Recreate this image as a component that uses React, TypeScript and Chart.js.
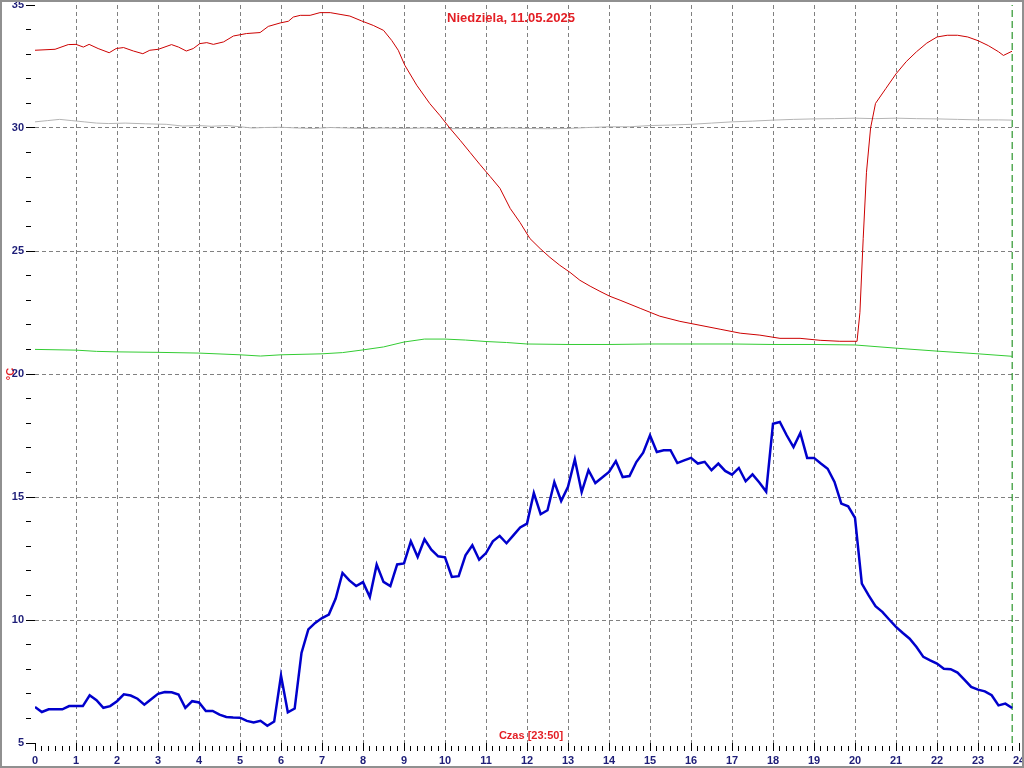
import React, { useEffect, useRef } from 'react';
import { Chart, registerables } from 'chart.js';

Chart.register(...registerables);

const titleText = 'Niedziela, 11.05.2025';
const xAxisText = 'Czas [23:50]';
const yAxisText = '°C';
const nowMinutes = 1430;
const yMin = 5;
const yMax = 35;
const dayMinutes = 1440;

// 10-minute samples from 00:00 to 23:50
const blueValues = [
  6.46, 6.26, 6.37, 6.37, 6.37, 6.5, 6.5, 6.5, 6.94, 6.74, 6.43, 6.5,
  6.7, 6.98, 6.93, 6.8, 6.56, 6.78, 7.0, 7.07, 7.06, 6.97, 6.43, 6.7,
  6.65, 6.3, 6.3, 6.15, 6.06, 6.04, 6.03, 5.9, 5.83, 5.9, 5.7, 5.87,
  7.74, 6.25, 6.4, 8.66, 9.62, 9.88, 10.08, 10.22, 10.87, 11.91, 11.61, 11.38,
  11.54, 10.93, 12.25, 11.55, 11.38, 12.26, 12.3, 13.2, 12.56, 13.28, 12.86, 12.59,
  12.55, 11.75, 11.78, 12.63, 13.04, 12.45, 12.72, 13.2, 13.42, 13.12, 13.44, 13.76,
  13.92, 15.16, 14.3, 14.46, 15.61, 14.84, 15.41, 16.53, 15.2, 16.09, 15.57, 15.79,
  16.02, 16.46, 15.81, 15.85, 16.42, 16.8, 17.51, 16.83, 16.9, 16.9, 16.38, 16.49,
  16.59, 16.36, 16.43, 16.09, 16.36, 16.06, 15.91, 16.18, 15.64, 15.92, 15.59, 15.22,
  17.98, 18.05, 17.51, 17.03, 17.6, 16.59, 16.59, 16.36, 16.15, 15.61, 14.73, 14.62,
  14.15, 11.48, 11.0, 10.56, 10.33, 10.02, 9.72, 9.47, 9.24, 8.9, 8.5, 8.36,
  8.23, 8.02, 8.0, 7.86, 7.58, 7.28, 7.17, 7.1, 6.94, 6.53, 6.6, 6.42,
];
const blueStepMinutes = 10;

const redHours = [
  0, 0.49, 0.81, 1.0, 1.18, 1.32, 1.54, 1.81, 1.98, 2.16, 2.4, 2.63, 2.8, 3.01, 3.33, 3.5,
  3.69, 3.86, 4.02, 4.19, 4.35, 4.6, 4.84, 5.16, 5.49, 5.69, 5.98, 6.18, 6.3, 6.47, 6.71,
  6.95, 7.2, 7.44, 7.68, 7.97, 8.25, 8.5, 8.7, 8.86, 9.02, 9.31, 9.63, 9.88, 10.12, 10.37,
  10.61, 10.85, 11.1, 11.34, 11.59, 11.83, 12.07, 12.32, 12.56, 12.8, 13.05, 13.29, 13.54,
  13.78, 14.02, 14.27, 14.76, 15.24, 15.73, 16.22, 16.71, 17.2, 17.68, 18.17, 18.66, 19.15,
  19.63, 20.05, 20.12, 20.2, 20.28, 20.38, 20.5, 20.75, 21.0, 21.25, 21.5, 21.75, 22.0,
  22.25, 22.5, 22.75, 23.0, 23.25, 23.5, 23.62, 23.83,
];
const redValues = [
  33.16, 33.2, 33.39, 33.4, 33.29, 33.4, 33.23, 33.06, 33.23, 33.27, 33.13, 33.02, 33.16, 33.2, 33.39, 33.29,
  33.13, 33.23, 33.43, 33.47, 33.4, 33.5, 33.74, 33.84, 33.88, 34.13, 34.27, 34.34, 34.51, 34.58, 34.58,
  34.69, 34.69, 34.62, 34.55, 34.35, 34.17, 33.97, 33.56, 33.16, 32.55, 31.74, 30.99, 30.5, 29.99, 29.5,
  29.01, 28.52, 28.03, 27.55, 26.73, 26.16, 25.51, 25.1, 24.74, 24.42, 24.13, 23.81, 23.57,
  23.36, 23.16, 23.0, 22.67, 22.35, 22.14, 21.98, 21.82, 21.66, 21.58, 21.45, 21.45, 21.37,
  21.33, 21.33, 22.5, 25.5, 28.2, 30.0, 31.0, 31.6, 32.2, 32.7, 33.1, 33.45, 33.7,
  33.77, 33.77, 33.7, 33.55, 33.35, 33.1, 32.95, 33.12,
];

const grayHours = [
  0, 0.3, 0.6, 0.9, 1.2, 1.5, 1.8, 2.2, 2.7, 3.2, 3.6, 4.0, 4.3, 4.7, 5.0, 5.3, 5.6, 6.0,
  6.4, 6.8, 7.2, 7.6, 8.0, 8.5, 9.0, 9.5, 10.0, 10.5, 11.0, 11.5, 12.0, 12.5, 13.0, 13.5,
  14.0, 14.5, 15.0, 15.5, 16.0, 16.5, 17.0, 17.5, 18.0, 18.5, 19.0, 19.5, 20.0, 20.5, 21.0,
  21.5, 22.0, 22.5, 23.0, 23.5, 23.83,
];
const grayValues = [
  30.25, 30.3, 30.35, 30.3, 30.25, 30.2, 30.18, 30.2, 30.17, 30.15, 30.08, 30.1, 30.07, 30.1, 30.05, 30.0, 30.02, 30.03,
  30.0, 29.98, 30.02, 30.0, 29.98, 30.0, 29.98, 30.0, 29.97, 29.98, 29.97, 30.0, 29.98, 29.97, 29.98, 30.02,
  30.05, 30.05, 30.1, 30.12, 30.15, 30.2, 30.25, 30.28, 30.32, 30.35, 30.37, 30.38, 30.4, 30.38, 30.4,
  30.38, 30.37, 30.35, 30.33, 30.33, 30.32,
];

const greenHours = [
  0, 1, 1.5, 2, 3, 4, 5, 5.5, 6, 7, 7.5, 8, 8.5, 9, 9.5, 10, 10.5, 11, 11.5, 12, 13, 14, 15,
  16, 17, 18, 19, 20, 21, 22, 23, 23.83,
];
const greenValues = [
  21.0, 20.97, 20.92, 20.9, 20.88, 20.85, 20.78, 20.73, 20.78, 20.82, 20.87, 20.98, 21.1, 21.3, 21.42, 21.42, 21.38,
  21.32, 21.28, 21.22, 21.2, 21.2, 21.22, 21.22, 21.22, 21.2, 21.2, 21.18, 21.05, 20.93, 20.82, 20.72,
];

const FONT = '"Liberation Sans", Arial, sans-serif';
const NAVY = '#1e1e78';
const RED = '#e31e24';
const GRID = '#808080';

const overlayPlugin = {
  id: 'overlayTexts',
  afterDraw(chart: any) {
    const ctx = chart.ctx;
    ctx.save();
    ctx.fillStyle = RED;
    ctx.textAlign = 'center';
    ctx.textBaseline = 'alphabetic';
    ctx.font = 'bold 13px ' + FONT;
    ctx.fillText(titleText, 511, 22);
    ctx.font = 'bold 11px ' + FONT;
    ctx.fillText(xAxisText, 531, 739);
    ctx.strokeStyle = '#909090';
    ctx.lineWidth = 2;
    ctx.strokeRect(1, 1, 1022, 766);
    ctx.restore();
  },
};

export default function App() {
  const ref = useRef<HTMLCanvasElement>(null);
  useEffect(() => {
    const pts = (hours: number[], vals: number[]) => hours.map((h, i) => ({ x: h * 60, y: vals[i] }));
    const bluePts = blueValues.map((v, i) => ({ x: i * blueStepMinutes, y: v }));
    const chart = new Chart(ref.current as HTMLCanvasElement, {
      type: 'line',
      data: {
        datasets: [
          { label: 'blue', data: bluePts, borderColor: '#0000cc', borderWidth: 2.5, pointRadius: 0, tension: 0 },
          { label: 'red', data: pts(redHours, redValues), borderColor: '#cc0000', borderWidth: 1, pointRadius: 0, tension: 0 },
          { label: 'green', data: pts(greenHours, greenValues), borderColor: '#33cc33', borderWidth: 1, pointRadius: 0, tension: 0 },
          { label: 'gray', data: pts(grayHours, grayValues), borderColor: '#b4b4b4', borderWidth: 1, pointRadius: 0, tension: 0 },
          {
            label: 'now',
            data: [{ x: nowMinutes, y: yMin }, { x: nowMinutes, y: yMax }],
            borderColor: '#008000', borderWidth: 1, borderDash: [7, 4], pointRadius: 0,
          },
        ],
      },
      options: {
        responsive: false,
        animation: false,
        layout: { padding: { top: 5, right: 5, left: 0, bottom: 0 } },
        plugins: { legend: { display: false }, tooltip: { enabled: false }, title: { display: false } },
        scales: {
          x: {
            type: 'linear',
            min: 0,
            max: dayMinutes,
            ticks: {
              stepSize: 10,
              autoSkip: false,
              maxRotation: 0,
              padding: 3,
              color: NAVY,
              font: { family: FONT, size: 11, weight: 'bold' },
              callback: (v: any) => (Number(v) % 60 === 0 ? String(Number(v) / 60) : ''),
            },
            grid: {
              color: (c: any) => {
                const v = c.tick ? c.tick.value : -1;
                return v % 60 === 0 && v > 0 && v < dayMinutes ? GRID : 'rgba(0,0,0,0)';
              },
              lineWidth: 1,
              tickLength: 8,
              tickColor: '#000000',
              tickWidth: 1,
              tickBorderDash: (c: any) => (c.tick && c.tick.value % 60 === 0 ? [] : [0, 3, 6, 100]),
            },
            border: { display: false, dash: [4, 3] },
            afterFit: (s: any) => {
              s.height = 25;
              s.paddingLeft = 0;
              s.paddingRight = 0;
            },
          } as any,
          y: {
            type: 'linear',
            min: yMin,
            max: yMax,
            ticks: {
              stepSize: 1,
              autoSkip: false,
              padding: 2,
              color: NAVY,
              font: { family: FONT, size: 11, weight: 'bold' },
              callback: (v: any) => (Number(v) % 5 === 0 ? String(v) : ''),
            },
            grid: {
              color: (c: any) => {
                const v = c.tick ? c.tick.value : -1;
                return v % 5 === 0 && v > yMin && v < yMax ? GRID : 'rgba(0,0,0,0)';
              },
              lineWidth: 1,
              tickLength: 9,
              tickColor: '#000000',
              tickWidth: 1,
              tickBorderDash: (c: any) => (c.tick && c.tick.value % 5 === 0 ? [] : [5, 100]),
            },
            border: { display: false, dash: [4, 3] },
            title: {
              display: true,
              text: yAxisText,
              color: RED,
              font: { family: FONT, size: 11, weight: 'bold' },
              padding: { top: 4, bottom: 4 },
            },
            afterFit: (s: any) => {
              s.width = 35;
              s.paddingTop = 0;
              s.paddingBottom = 0;
            },
          } as any,
        },
      },
      plugins: [overlayPlugin],
    } as any);
    return () => chart.destroy();
  }, []);
  return (
    <div style={{ position: 'fixed', left: 0, top: 0, width: 1024, height: 768, background: '#fff' }}>
      <canvas ref={ref} width={1024} height={768} style={{ display: 'block' }} />
    </div>
  );
}
